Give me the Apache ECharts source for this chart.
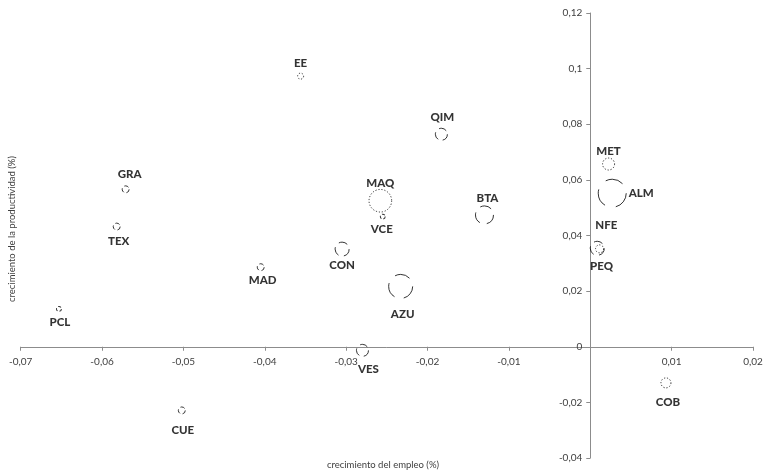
<!DOCTYPE html>
<html>
<head>
<meta charset="utf-8">
<script src="https://cdn.jsdelivr.net/npm/echarts@6/dist/echarts.min.js"></script>
<style>
html,body{margin:0;padding:0;background:#fff;}
#chart{width:764px;height:473px;}
</style>
</head>
<body>
<div id="chart"></div>
<script>
// ---- data ----
var sectors = ['EE','QIM','MAQ','MET','ALM','NFE','PEQ','GRA','TEX','MAD','CON','AZU','VES','VCE','BTA','PCL','CUE','COB'];
var employmentGrowth = [-0.0356,-0.0183,-0.0258,0.00225,0.0027,0.00086,0.00114,-0.0571,-0.0582,-0.0405,-0.0305,-0.0233,-0.0280,-0.0255,-0.0130,-0.0653,-0.0502,0.0093];
var productivityGrowth = [0.0973,0.0764,0.0525,0.0657,0.0552,0.0354,0.0352,0.0566,0.0432,0.0286,0.0351,0.0217,-0.0013,0.0468,0.0474,0.0136,-0.0229,-0.0130];
var bubbleWeight = [9,36,128,36,196,49,16,12,12,12,49,144,36,6,81,6,12,25];
var lineKind = ['dot','dash','dot','dot','dash','dash','dot','dash','dash','dash','dash','dash','dash','dash','dash','dash','dash','dot'];
var xTicks = {min:-0.07, max:0.02, step:0.01};
var yTicks = {min:-0.04, max:0.12, step:0.02};

// ---- label placement (style, not data) ----
var labelCfg = {
  EE:{p:'top',d:3,o:[0,0]}, QIM:{p:'top',d:4,o:[1,0]}, MAQ:{p:'top',d:0,o:[0,0]},
  MET:{p:'top',d:0,o:[0,0]}, ALM:{p:'right',d:2,o:[0,0]}, NFE:{p:'top',d:9,o:[9,0]},
  PEQ:{p:'bottom',d:7,o:[2,0]}, GRA:{p:'top',d:5,o:[4,0]}, TEX:{p:'bottom',d:5,o:[2,0]},
  MAD:{p:'bottom',d:3,o:[2,0]}, CON:{p:'bottom',d:3,o:[0,0]}, AZU:{p:'bottom',d:9,o:[2,0]},
  VES:{p:'bottom',d:6,o:[6,0]}, VCE:{p:'bottom',d:4,o:[-1,0]}, BTA:{p:'top',d:1,o:[3,0]},
  PCL:{p:'bottom',d:4,o:[1,0]}, CUE:{p:'bottom',d:10,o:[1,0]}, COB:{p:'bottom',d:8,o:[2,0]}
};

function fmt(v){
  var s = String(parseFloat(Number(v).toFixed(4)));
  return s.replace('.', ',');
}

var FONT = 'Lato, "Liberation Sans", sans-serif';
var W = 764, H = 473;
var G = {left:20.7, right:11, top:13, bottom:15};
var plotW = W - G.left - G.right, plotH = H - G.top - G.bottom;
// axes cross at zero: offsets computed from the axis ranges
var xAxisOffset = -plotH * (0 - yTicks.min) / (yTicks.max - yTicks.min);
var yAxisOffset = -plotW * (0 - xTicks.min) / (xTicks.max - xTicks.min);

var seriesData = sectors.map(function(name, i){
  var r = Math.sqrt(bubbleWeight[i]);
  var cfg = labelCfg[name];
  var dash = lineKind[i] === 'dot' ? [1.2, 1.8] : [Math.max(3, r*1.3), Math.max(2, r*0.8)];
  return {
    name: name,
    value: [employmentGrowth[i], productivityGrowth[i], bubbleWeight[i]],
    symbolSize: 2*r,
    itemStyle: {color:'rgba(0,0,0,0)', borderColor:'#000', borderWidth:1, borderType: dash},
    label: {show:true, position:cfg.p, distance:cfg.d, offset:cfg.o, formatter:name}
  };
});

var chart = echarts.init(document.getElementById('chart'), null, {renderer:'canvas'});
chart.setOption({
  animation:false,
  backgroundColor:'#fff',
  grid:{left:G.left, right:G.right, top:G.top, bottom:G.bottom, containLabel:false, outerBoundsMode:'none'},
  xAxis:{
    type:'value', min:xTicks.min, max:xTicks.max, interval:xTicks.step,
    position:'bottom', offset:xAxisOffset,
    splitLine:{show:false},
    axisLine:{onZero:false, lineStyle:{color:'#8c8c8c', width:1}},
    axisTick:{show:true, inside:false, length:4, lineStyle:{color:'#8c8c8c'}},
    axisLabel:{color:'#404040', fontSize:10, fontFamily:FONT, margin:10,
      formatter:function(v){ return Math.abs(v) < 1e-9 ? '' : fmt(v); }}
  },
  yAxis:{
    type:'value', min:yTicks.min, max:yTicks.max, interval:yTicks.step,
    position:'left', offset:yAxisOffset,
    splitLine:{show:false},
    axisLine:{onZero:false, lineStyle:{color:'#8c8c8c', width:1}},
    axisTick:{show:true, inside:false, length:4, lineStyle:{color:'#8c8c8c'}},
    axisLabel:{color:'#404040', fontSize:10, fontFamily:FONT, margin:8,
      formatter:function(v){ return fmt(v); }}
  },
  graphic:[
    {type:'text', x:383, y:465,
      style:{text:'crecimiento del empleo (%)', fill:'#404040', font:'9.5px ' + FONT, align:'center', verticalAlign:'middle'}},
    {type:'text', x:12, y:229, rotation:Math.PI/2,
      style:{text:'crecimiento de la productividad (%)', fill:'#404040', font:'9.5px ' + FONT, align:'center', verticalAlign:'middle'}}
  ],
  series:[{
    type:'scatter',
    symbol:'circle',
    data:seriesData,
    label:{color:'#000', fontWeight:900, fontSize:11.5, fontFamily:FONT},
    emphasis:{disabled:true}
  }]
});
</script>
</body>
</html>
